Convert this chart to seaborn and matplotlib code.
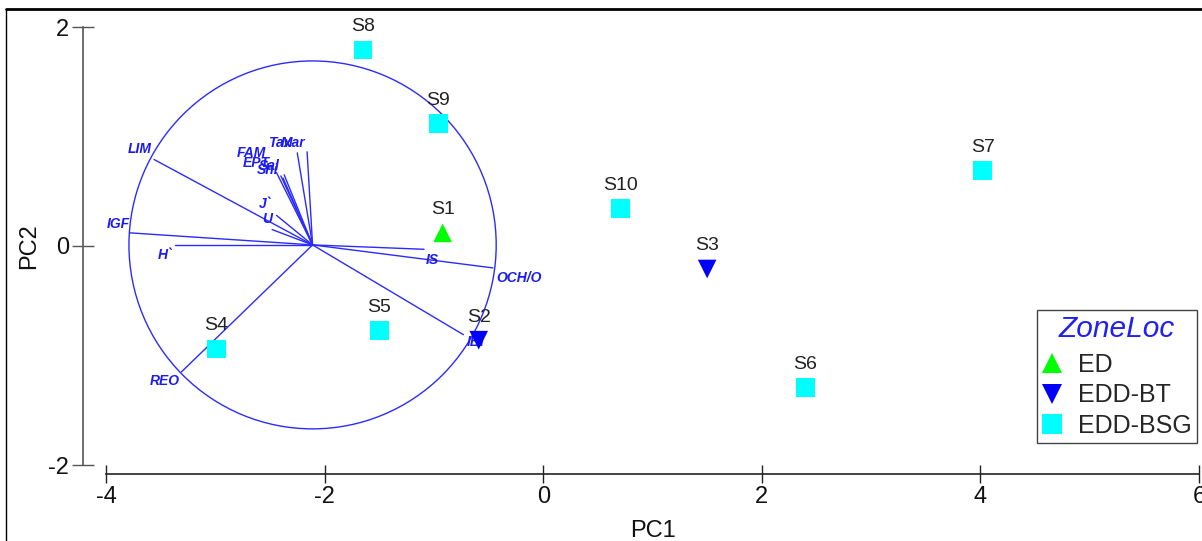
import numpy as np
import pandas as pd
import matplotlib
matplotlib.use('Agg')
import matplotlib.pyplot as plt
import seaborn as sns
from matplotlib.patches import Circle
from matplotlib.lines import Line2D

# ---------------- data ----------------
samples = ['S1', 'S2', 'S3', 'S4', 'S5', 'S6', 'S7', 'S8', 'S9', 'S10']
pc1 = [-0.92, -0.59, 1.50, -2.99, -1.50, 2.40, 4.02, -1.65, -0.96, 0.71]
pc2 = [0.12, -0.86, -0.21, -0.94, -0.77, -1.29, 0.69, 1.79, 1.12, 0.34]
zone = ['ED', 'EDD-BT', 'EDD-BT', 'EDD-BSG', 'EDD-BSG', 'EDD-BSG',
        'EDD-BSG', 'EDD-BSG', 'EDD-BSG', 'EDD-BSG']

zone_order = ['ED', 'EDD-BT', 'EDD-BSG']
zone_colors = ['#00ff00', '#0000ff', '#00ffff']
zone_markers = ['^', 'v', 's']

# biplot vectors (loadings, relative to circle centre)
var_names = ['Tax', 'Mar', 'FAM', 'EPT', 'Sal', 'Shi', 'J`', 'U',
             'LIM', 'IGF', 'H`', 'REO', 'IBI', 'OCH/O', 'IS']
var_dx = [-0.14, -0.05, -0.33, -0.29, -0.26, -0.27, -0.33, -0.37,
          -1.45, -1.67, -1.26, -1.20, 1.38, 1.65, 1.02]
var_dy = [0.84, 0.85, 0.66, 0.63, 0.64, 0.61, 0.27, 0.14,
          0.78, 0.11, 0.00, -1.16, -0.82, -0.21, -0.04]
circle_center = (-2.11, 0.01)
circle_radius = 1.68

x_ticks = [-4, -2, 0, 2, 4, 6]
y_ticks = [-2, 0, 2]

# label offsets (pixels) for vector labels
label_offsets = {'Tax': (-18, 10), 'Mar': (-14, 9), 'FAM': (-25, 20), 'EPT': (-25, 13),
                 'Sal': (-15, 9), 'Shi': (-15, 8), 'J`': (-11, 11), 'U': (-5, 11),
                 'LIM': (-14, 10), 'IGF': (-12, 9), 'H`': (-10, -10), 'REO': (-17, -9),
                 'IBI': (12, -7), 'OCH/O': (26, -10), 'IS': (8, -11)}

# ---------------- style ----------------
sns.set_theme(style='white')
plt.rcParams['font.family'] = ['Liberation Sans', 'DejaVu Sans']

W, H = 1202, 541
fig = plt.figure(figsize=(W / 100, H / 100), dpi=100)
ax = fig.add_axes([106 / W, 1 - 465 / H, (1199 - 106) / W, (465 - 27) / H])

blue_line = '#2b2bff'
blue_text = '#1c1cf0'

df = pd.DataFrame({'PC1': pc1, 'PC2': pc2, 'Zone': zone, 'Sample': samples})

# circle and vectors
cx, cy = circle_center
ax.add_patch(Circle((cx, cy), circle_radius, fill=False, ec=blue_line, lw=1.0, zorder=1))
for name, dx, dy in zip(var_names, var_dx, var_dy):
    ax.plot([cx, cx + dx], [cy, cy + dy], color=blue_line, lw=1.0, zorder=1)
    ax.annotate(name, xy=(cx + dx, cy + dy), xytext=label_offsets[name],
                textcoords='offset pixels', ha='center', va='center',
                fontsize=10, fontweight='bold', fontstyle='italic', color=blue_text,
                zorder=2)

sns.scatterplot(data=df, x='PC1', y='PC2', hue='Zone', style='Zone',
                hue_order=zone_order, style_order=zone_order,
                palette=dict(zip(zone_order, zone_colors)),
                markers=dict(zip(zone_order, zone_markers)),
                s=180, linewidth=0, ax=ax, zorder=3)

for s, x, y in zip(samples, pc1, pc2):
    ax.annotate(s, xy=(x, y), xytext=(0, 23), textcoords='offset pixels',
                ha='center', va='center', fontsize=14, color='#222222', zorder=4)

ax.set_xlim(-4, 6)
ax.set_ylim(-2, 2)
ax.set_xticks(x_ticks)
ax.set_yticks(y_ticks)
ax.set_xticklabels([str(t) for t in x_ticks])
ax.set_yticklabels([str(t) for t in y_ticks])
ax.set_xlabel('PC1', fontsize=17, labelpad=9, color='#111111')
ax.set_ylabel('PC2', fontsize=17, labelpad=6, color='#111111')

for side in ['top', 'right']:
    ax.spines[side].set_visible(False)
ax.spines['left'].set_position(('outward', 16.5))
ax.spines['bottom'].set_position(('outward', 6.5))
ax.spines['left'].set_color('#555555')
ax.spines['bottom'].set_color('#222222')
ax.spines['left'].set_linewidth(1.2)
ax.spines['bottom'].set_linewidth(1.2)
ax.tick_params(axis='both', direction='inout', width=1.0,
               labelsize=17, pad=2, labelcolor='#111111', bottom=True, left=True)
ax.tick_params(axis='x', length=13, color='#222222')
ax.tick_params(axis='y', length=16, color='#555555')

handles, labels = ax.get_legend_handles_labels()
leg = ax.legend(handles, labels, title='ZoneLoc', loc='lower right',
                bbox_to_anchor=(1197 / W, 1 - 443 / H), bbox_transform=fig.transFigure,
                borderaxespad=0, frameon=True, fancybox=False, framealpha=1,
                edgecolor='#444444', fontsize=18, handlelength=0.8,
                handletextpad=0.65, labelspacing=0.26, borderpad=0.2,
                title_fontproperties={'size': 21.5, 'style': 'italic'})
leg.get_title().set_color('#2020f0')
leg.get_frame().set_linewidth(1.0)
try:
    leg._legend_box.sep = 7
except Exception:
    pass
for h in leg.legend_handles:
    try:
        h.set_markersize(14)
    except Exception:
        pass

# figure frame (screenshot border)
fig.add_artist(Line2D([6 / W, 6 / W], [0, 1 - 9 / H], transform=fig.transFigure,
                      color='black', lw=1.0))
fig.add_artist(Line2D([6 / W, 1], [1 - 9 / H, 1 - 9 / H], transform=fig.transFigure,
                      color='black', lw=2.0))

fig.savefig('out.png', dpi=100)
